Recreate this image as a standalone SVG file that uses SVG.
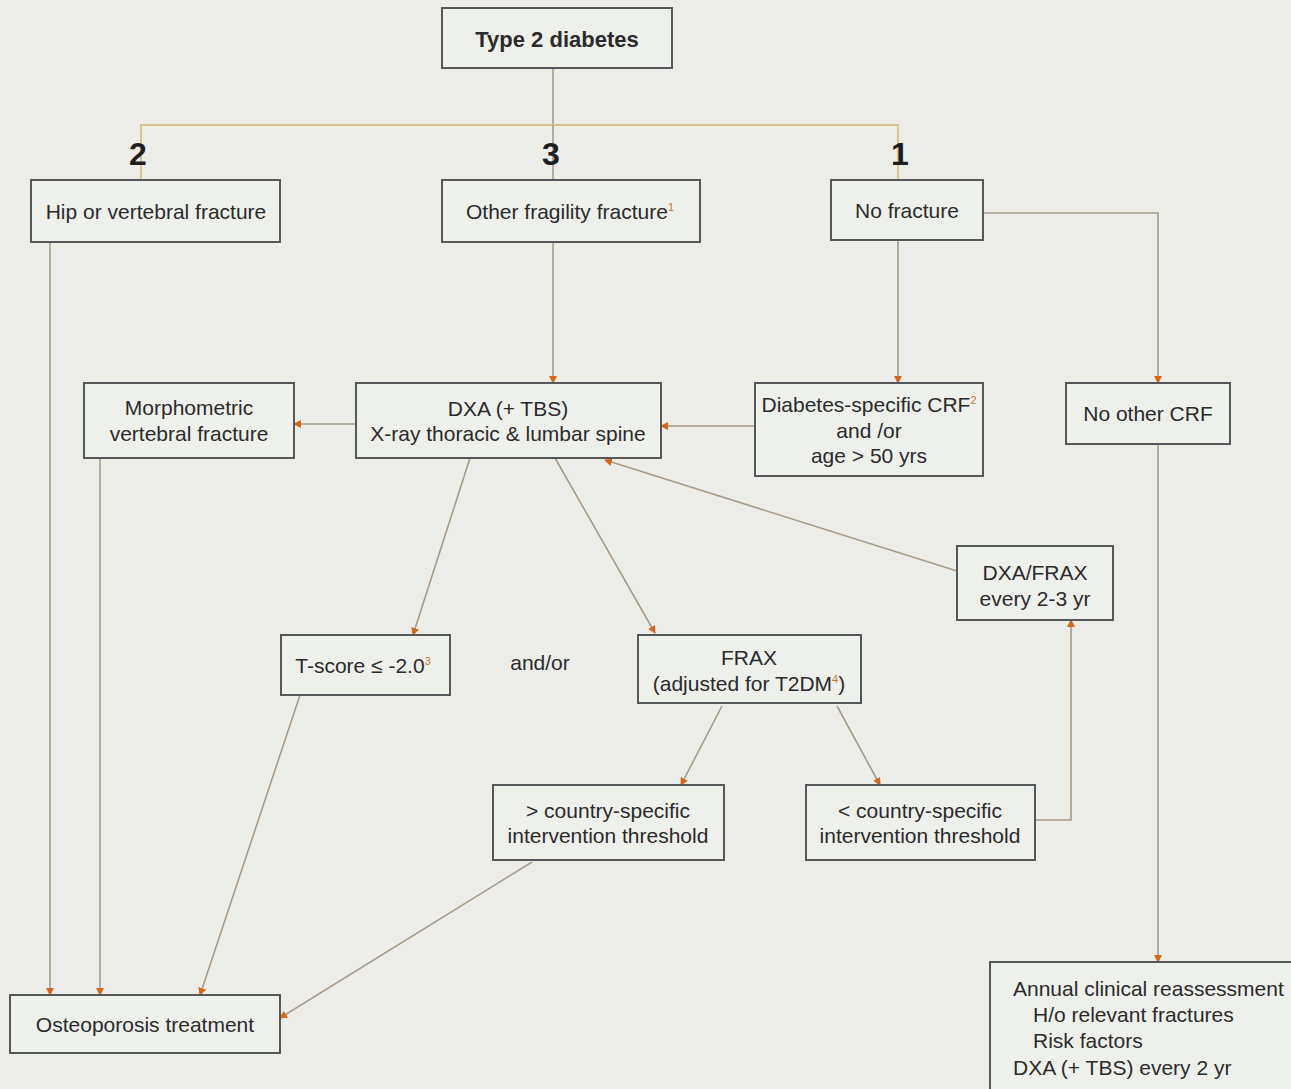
<svg xmlns="http://www.w3.org/2000/svg" width="1291" height="1089" viewBox="0 0 1291 1089">
<defs>
<marker id="ah" markerWidth="8" markerHeight="8" refX="7" refY="4" orient="auto" markerUnits="userSpaceOnUse">
<path d="M0,0 L8,4 L0,8 z" fill="#d0691e"/>
</marker>
<style>
.box{fill:#eef0eb;stroke:#55585a;stroke-width:2}
.t{font-family:"Liberation Sans",Arial,sans-serif;font-size:21px;fill:#2b2b2b;text-anchor:middle}
.tl{font-family:"Liberation Sans",Arial,sans-serif;font-size:21px;fill:#2b2b2b}
.b{font-weight:bold;font-size:22px}
.num{font-family:"Liberation Sans",Arial,sans-serif;font-size:32px;font-weight:bold;fill:#1e1e1e;text-anchor:middle}
.sup{font-size:11px;fill:#c8772e}
.c{fill:none;stroke:#a89a88;stroke-width:1.6}
.ca{fill:none;stroke:#a89a88;stroke-width:1.6;marker-end:url(#ah)}
.top{fill:none;stroke:#d8c78c;stroke-width:2}
</style>
</defs>
<rect width="1291" height="1089" fill="#ecede8"/>

<g id="connectors">
<path class="c" d="M553,68 V125"/>
<path class="top" d="M141,180 V125 H898 V180"/>
<path class="c" d="M553,125 V180"/>
<path class="ca" d="M50,242 V995"/>
<path class="ca" d="M100,458 V995"/>
<path class="ca" d="M300,695 L200,995"/>
<path class="ca" d="M532,862 L280,1018"/>
<path class="ca" d="M553,242 V383"/>
<path class="ca" d="M898,240 V383"/>
<path class="ca" d="M983,213 H1158 V383"/>
<path class="ca" d="M755,426 H661"/>
<path class="ca" d="M356,424 H294"/>
<path class="ca" d="M470,458 L413,635"/>
<path class="ca" d="M555,458 L655,633"/>
<path class="ca" d="M957,571 L605,460"/>
<path class="ca" d="M722,706 L681,785"/>
<path class="ca" d="M837,706 L880,785"/>
<path class="ca" d="M1035,820 H1071 V620"/>
<path class="ca" d="M1158,444 V962"/>
</g>

<g id="labels">
<text class="num" x="138" y="165">2</text>
<text class="num" x="551" y="165">3</text>
<text class="num" x="900" y="165">1</text>
<text class="t" x="540" y="670">and/or</text>
</g>

<g id="n-type2">
<rect class="box" x="442" y="8" width="230" height="60"/>
<text class="t b" x="557" y="47">Type 2 diabetes</text>
</g>
<g id="n-hip">
<rect class="box" x="31" y="180" width="249" height="62"/>
<text class="t" x="156" y="219">Hip or vertebral fracture</text>
</g>
<g id="n-other">
<rect class="box" x="442" y="180" width="258" height="62"/>
<text class="t" x="570" y="219">Other fragility fracture<tspan class="sup" dy="-8">1</tspan></text>
</g>
<g id="n-nofracture">
<rect class="box" x="831" y="180" width="152" height="60"/>
<text class="t" x="907" y="218">No fracture</text>
</g>
<g id="n-morph">
<rect class="box" x="84" y="383" width="210" height="75"/>
<text class="t" x="189" y="415">Morphometric</text>
<text class="t" x="189" y="441">vertebral fracture</text>
</g>
<g id="n-dxa">
<rect class="box" x="356" y="383" width="305" height="75"/>
<text class="t" x="508" y="416">DXA (+ TBS)</text>
<text class="t" x="508" y="441">X-ray thoracic &amp; lumbar spine</text>
</g>
<g id="n-crf">
<rect class="box" x="755" y="383" width="228" height="93"/>
<text class="t" x="869" y="412">Diabetes-specific CRF<tspan class="sup" dy="-8">2</tspan></text>
<text class="t" x="869" y="438">and /or</text>
<text class="t" x="869" y="463">age &gt; 50 yrs</text>
</g>
<g id="n-noother">
<rect class="box" x="1066" y="383" width="164" height="61"/>
<text class="t" x="1148" y="421">No other CRF</text>
</g>
<g id="n-dxafrax">
<rect class="box" x="957" y="546" width="156" height="74"/>
<text class="t" x="1035" y="580">DXA/FRAX</text>
<text class="t" x="1035" y="606">every 2-3 yr</text>
</g>
<g id="n-tscore">
<rect class="box" x="281" y="635" width="169" height="60"/>
<text class="t" x="363" y="673">T-score ≤ -2.0<tspan class="sup" dy="-8">3</tspan></text>
</g>
<g id="n-frax">
<rect class="box" x="638" y="635" width="223" height="68"/>
<text class="t" x="749" y="665">FRAX</text>
<text class="t" x="749" y="691">(adjusted for T2DM<tspan class="sup" dy="-8">4</tspan><tspan dy="8">)</tspan></text>
</g>
<g id="n-above">
<rect class="box" x="493" y="785" width="231" height="75"/>
<text class="t" x="608" y="818">&gt; country-specific</text>
<text class="t" x="608" y="843">intervention threshold</text>
</g>
<g id="n-below">
<rect class="box" x="806" y="785" width="229" height="75"/>
<text class="t" x="920" y="818">&lt; country-specific</text>
<text class="t" x="920" y="843">intervention threshold</text>
</g>
<g id="n-osteo">
<rect class="box" x="10" y="995" width="270" height="58"/>
<text class="t" x="145" y="1032">Osteoporosis treatment</text>
</g>
<g id="n-annual">
<rect class="box" x="990" y="962" width="310" height="135"/>
<text class="tl" x="1013" y="996">Annual clinical reassessment</text>
<text class="tl" x="1033" y="1022">H/o relevant fractures</text>
<text class="tl" x="1033" y="1048">Risk factors</text>
<text class="tl" x="1013" y="1075">DXA (+ TBS) every 2 yr</text>
</g>
</svg>
